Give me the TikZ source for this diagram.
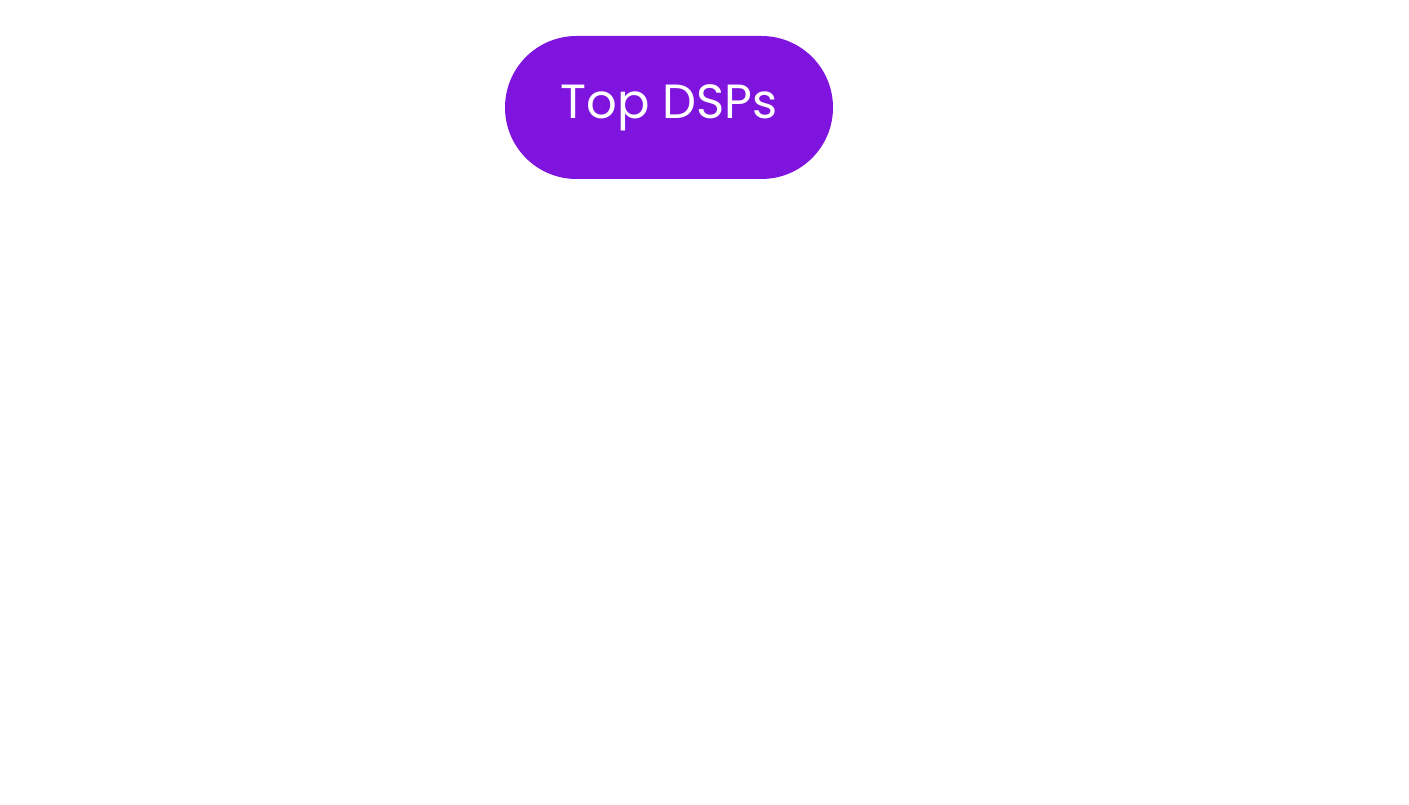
\documentclass[tikz,border=0pt]{standalone}
\usepackage{fontspec}
\setmainfont{Poppins}
\definecolor{pill}{HTML}{7F14DE}
\tikzset{pillbox/.style={fill=pill,rounded corners=71.5pt,minimum width=328pt,minimum height=143pt,inner sep=0pt,text=white,font=\fontsize{48}{56}\selectfont}}
\begin{document}
\begin{tikzpicture}[x=1pt,y=-1pt]
\useasboundingbox[fill=white] (0,0) rectangle (1409,805);
\node[pillbox] (top) at (669,107.5) {Top DSPs};
\end{tikzpicture}
\end{document}
